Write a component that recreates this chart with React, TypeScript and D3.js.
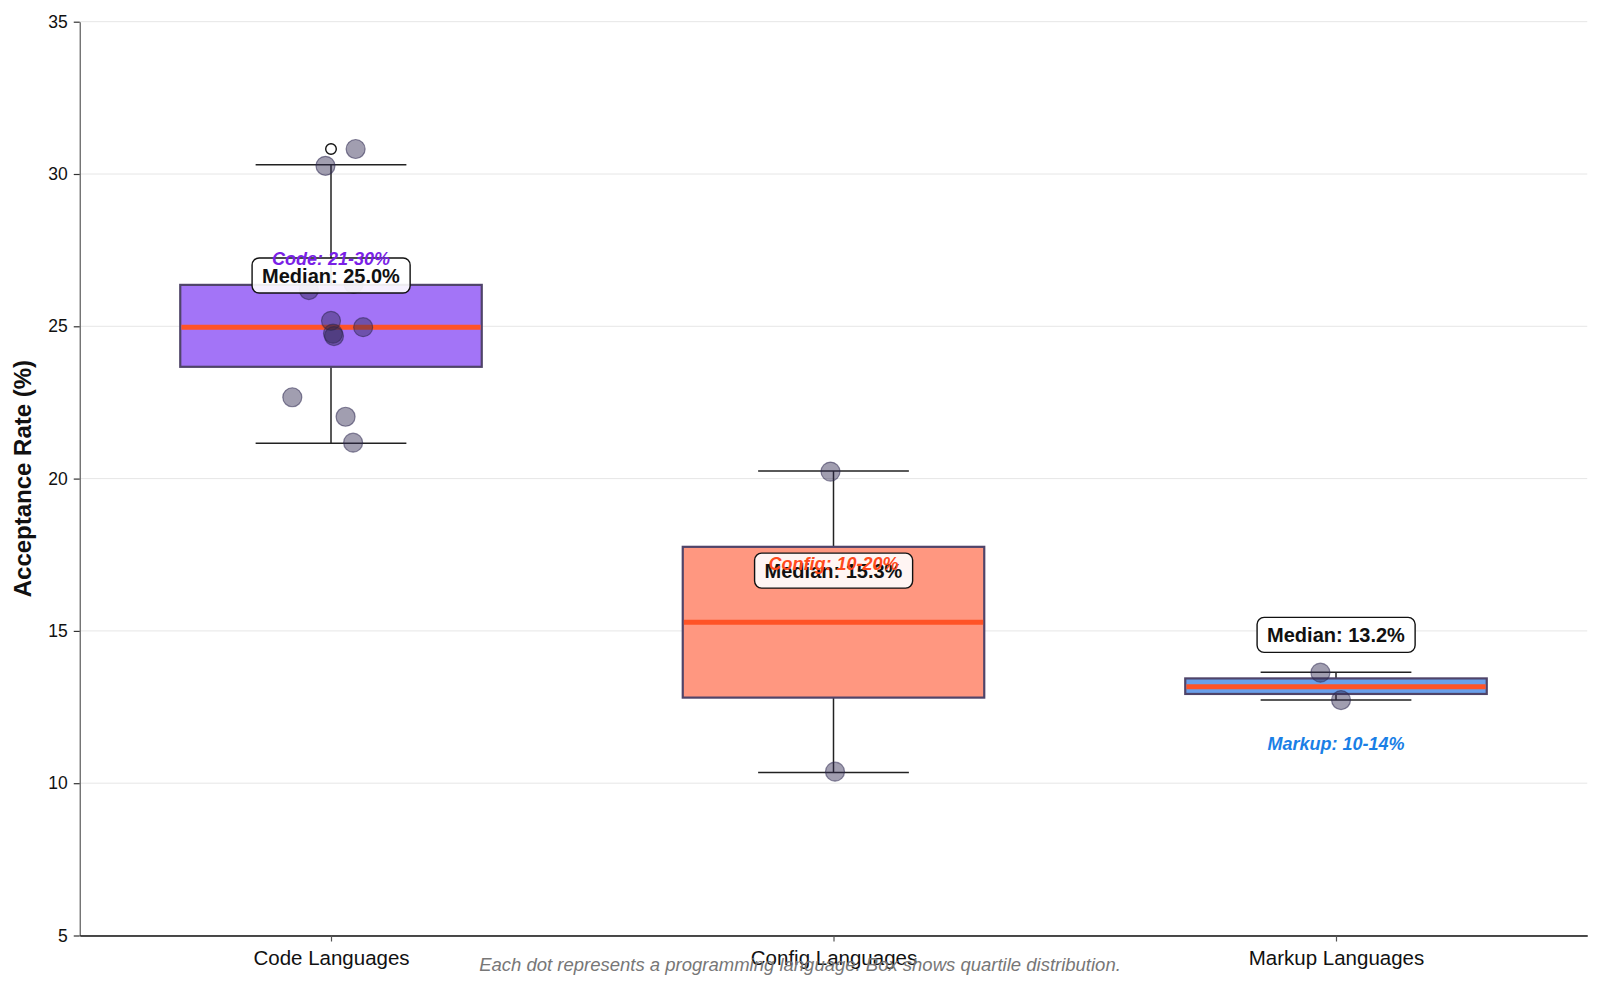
import React, { useRef, useEffect } from "react"
import * as d3 from "d3"

const categories = ["Code Languages", "Config Languages", "Markup Languages"]
const groupLabels = ["Code: 21-30%", "Config: 10-20%", "Markup: 10-14%"]
const groupLabelY = [27.23, 17.22, 11.29]
const groupColors = ["#7a1fe6", "#ff4a1c", "#1a7fe6"]
const boxFills = ["#a374f7", "#ff9780", "#6a9fea"]

// box summaries: [whiskerLow, q1, median, q3, whiskerHigh]
const boxStats = [
  [21.16, 23.67, 24.97, 26.36, 30.3],
  [10.35, 12.81, 15.28, 17.76, 20.25],
  [12.73, 12.93, 13.17, 13.44, 13.64],
]
const medianLabels = ["Median: 25.0%", "Median: 15.3%", "Median: 13.2%"]
const outliers = [[30.82], [], []]

// jittered language dots: [x offset in category units, value]
const codeDots = [
  [-0.011, 30.27], [0.049, 30.82], [-0.044, 26.19], [0.045, 26.39],
  [0.0, 25.18], [0.004, 24.76], [0.006, 24.68], [0.064, 24.97],
  [-0.077, 22.67], [0.029, 22.03], [0.044, 21.18],
]
const configDots = [[-0.006, 20.23], [0.003, 10.38]]
const markupDots = [[-0.031, 13.63], [0.01, 12.73]]
const dots = [codeDots, configDots, markupDots]

const yTicks = [5, 10, 15, 20, 25, 30, 35]
const footnote =
  "Each dot represents a programming language. Box shows quartile distribution."

const W = 1600
const H = 985
const plot = { left: 79.75, right: 1587.25, top: 21.7, bottom: 935.5 }
const font = "'Liberation Sans', Arial, sans-serif"

function drawChart(svgEl: SVGSVGElement) {
  const svg = d3.select(svgEl)
  svg.selectAll("*").remove()

  const x = d3.scaleLinear().domain([-0.5, 2.5]).range([plot.left, plot.right])
  const y = d3.scaleLinear().domain([5, 35]).range([plot.bottom, plot.top])

  // grid
  svg
    .append("g")
    .selectAll("line")
    .data(yTicks)
    .join("line")
    .attr("x1", plot.left)
    .attr("x2", plot.right)
    .attr("y1", d => y(d))
    .attr("y2", d => y(d))
    .attr("stroke", "#e6e6e6")
    .attr("stroke-width", 1)

  // y axis
  const yAxis = svg
    .append("g")
    .attr("transform", `translate(${plot.left},0)`)
    .call(d3.axisLeft(y).tickValues(yTicks).tickSize(6).tickPadding(6).tickSizeOuter(0))
  yAxis.select(".domain").attr("stroke", "#666").attr("stroke-width", 1.3)
  yAxis.selectAll(".tick line").attr("stroke", "#333").attr("stroke-width", 1.2)
  yAxis
    .selectAll(".tick text")
    .attr("font-family", font)
    .attr("font-size", 17.5)
    .attr("fill", "#111")

  // x axis
  const xAxis = svg
    .append("g")
    .attr("transform", `translate(0,${plot.bottom})`)
    .call(
      d3
        .axisBottom(x)
        .tickValues([0, 1, 2])
        .tickFormat(i => categories[i as number])
        .tickSize(6)
        .tickPadding(9)
        .tickSizeOuter(0)
    )
  xAxis.select(".domain").attr("stroke", "#111").attr("stroke-width", 1.5)
  xAxis.selectAll(".tick line").attr("stroke", "#555").attr("stroke-width", 1.2)
  xAxis
    .selectAll(".tick text")
    .attr("font-family", font)
    .attr("font-size", 20.5)
    .attr("fill", "#111")

  svg
    .append("text")
    .attr("transform", `translate(31,${y(20)}) rotate(-90)`)
    .attr("text-anchor", "middle")
    .attr("font-family", font)
    .attr("font-size", 24)
    .attr("font-weight", "bold")
    .attr("fill", "#111")
    .text("Acceptance Rate (%)")

  const boxHalf = 0.3
  const capHalf = 0.15

  boxStats.forEach((s, i) => {
    const g = svg.append("g")
    const [lo, q1, med, q3, hi] = s
    // whiskers
    g.append("line")
      .attr("x1", x(i)).attr("x2", x(i))
      .attr("y1", y(q3)).attr("y2", y(hi))
      .attr("stroke", "#222").attr("stroke-width", 1.5)
    g.append("line")
      .attr("x1", x(i)).attr("x2", x(i))
      .attr("y1", y(q1)).attr("y2", y(lo))
      .attr("stroke", "#222").attr("stroke-width", 1.5)
    ;[lo, hi].forEach(v => {
      g.append("line")
        .attr("x1", x(i - capHalf)).attr("x2", x(i + capHalf))
        .attr("y1", y(v)).attr("y2", y(v))
        .attr("stroke", "#222").attr("stroke-width", 1.5)
    })
    // box
    g.append("rect")
      .attr("x", x(i - boxHalf))
      .attr("width", x(i + boxHalf) - x(i - boxHalf))
      .attr("y", y(q3))
      .attr("height", y(q1) - y(q3))
      .attr("fill", boxFills[i])
      .attr("stroke", "#4f4469")
      .attr("stroke-width", 2.2)
    g.append("line")
      .attr("x1", x(i - boxHalf) + 1.1).attr("x2", x(i + boxHalf) - 1.1)
      .attr("y1", y(med)).attr("y2", y(med))
      .attr("stroke", "#ff5327").attr("stroke-width", 5)
    // fliers
    g.selectAll("circle.flier")
      .data(outliers[i])
      .join("circle")
      .attr("cx", x(i))
      .attr("cy", d => y(d))
      .attr("r", 5.3)
      .attr("fill", "white")
      .attr("stroke", "#111")
      .attr("stroke-width", 1.4)
  })

  // dots
  dots.forEach((list, i) => {
    svg
      .append("g")
      .selectAll("circle")
      .data(list)
      .join("circle")
      .attr("cx", d => x(i + d[0]))
      .attr("cy", d => y(d[1]))
      .attr("r", 9.5)
      .attr("fill", "#2e2850")
      .attr("fill-opacity", 0.45)
      .attr("stroke", "#2e2850")
      .attr("stroke-opacity", 0.55)
      .attr("stroke-width", 1.2)
  })

  // median labels
  medianLabels.forEach((t, i) => {
    const cy = y(boxStats[i][2] + 1.7)
    const g = svg.append("g")
    const txt = g
      .append("text")
      .attr("x", x(i))
      .attr("y", cy)
      .attr("dy", "0.36em")
      .attr("text-anchor", "middle")
      .attr("font-family", font)
      .attr("font-size", 20)
      .attr("font-weight", "bold")
      .attr("fill", "#111")
      .text(t)
    const bb = (txt.node() as SVGTextElement).getBBox()
    g.insert("rect", "text")
      .attr("x", bb.x - 10)
      .attr("y", cy - 17.5)
      .attr("width", bb.width + 20)
      .attr("height", 35)
      .attr("rx", 7)
      .attr("fill", "white")
      .attr("fill-opacity", 0.9)
      .attr("stroke", "#111")
      .attr("stroke-width", 1.4)
  })

  // group range labels
  groupLabels.forEach((t, i) => {
    svg
      .append("text")
      .attr("x", x(i))
      .attr("y", y(groupLabelY[i]))
      .attr("dy", "0.36em")
      .attr("text-anchor", "middle")
      .attr("font-family", font)
      .attr("font-size", 18)
      .attr("font-weight", "bold")
      .attr("font-style", "italic")
      .attr("fill", groupColors[i])
      .text(t)
  })

  svg
    .append("text")
    .attr("x", 800)
    .attr("y", 971)
    .attr("text-anchor", "middle")
    .attr("font-family", font)
    .attr("font-size", 18.5)
    .attr("font-style", "italic")
    .attr("fill", "#777")
    .text(footnote)
}

export default function App() {
  const ref = useRef<SVGSVGElement>(null)
  useEffect(() => {
    if (ref.current) drawChart(ref.current)
  }, [])
  return (
    <svg
      ref={ref}
      width={W}
      height={H}
      style={{ position: "absolute", left: 0, top: 0, background: "white" }}
    />
  )
}
